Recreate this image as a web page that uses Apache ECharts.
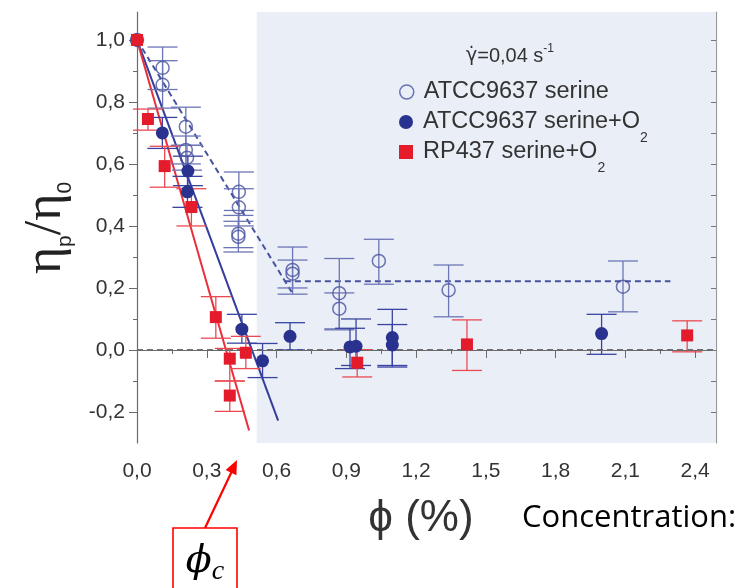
<!DOCTYPE html>
<html>
<head>
<meta charset="utf-8">
<script src="https://cdn.jsdelivr.net/npm/echarts@6/dist/echarts.min.js"></script>
<style>
  html, body { margin: 0; padding: 0; background: #ffffff; }
  #chart { width: 755px; height: 588px; }
</style>
</head>
<body>
<div id="chart"></div>
<script>
// Relative viscosity of bacterial suspensions vs volume fraction (shear rate 0.04 s^-1)

// Axis ticks
const xMajor = [0, 0.3, 0.6, 0.9, 1.2, 1.5, 1.8, 2.1, 2.4];
const xMinor = [0.15, 0.45, 0.75, 1.05, 1.35, 1.65, 1.95, 2.25];
const yMajor = [-0.2, 0, 0.2, 0.4, 0.6, 0.8, 1.0];
const yMinor = [-0.1, 0.1, 0.3, 0.5, 0.7, 0.9];
const yRight = [-0.2, -0.1, 0, 0.1, 0.2, 0.3, 0.4, 0.5, 0.6, 0.7, 0.8, 0.9, 1.0];

// Series names
const seriesNames = ['ATCC9637 serine', 'ATCC9637 serine+O2', 'RP437 serine+O2'];

// ATCC9637 serine (open circles): [phi, eta_p/eta_0]
const openPts = [
  [0, 1.0], [0.11, 0.91], [0.11, 0.855], [0.21, 0.72], [0.21, 0.645], [0.215, 0.62],
  [0.438, 0.51], [0.438, 0.46], [0.436, 0.375], [0.436, 0.365],
  [0.669, 0.258], [0.669, 0.246], [0.87, 0.183], [0.87, 0.133],
  [1.04, 0.287], [1.34, 0.193], [2.09, 0.204]
];
// error bars [low, high]
const openBars = [
  null, [0.84, 0.977], [0.78, 0.933], [0.66, 0.783], [0.60, 0.69], [0.58, 0.66],
  [0.45, 0.574], [0.40, 0.52], [0.316, 0.434], [0.33, 0.415],
  [0.18, 0.332], [0.20, 0.29], [0.068, 0.295], [0.065, 0.184],
  [0.212, 0.357], [0.107, 0.274], [0.123, 0.287]
];

// ATCC9637 serine+O2 (filled circles)
const filledPts = [
  [0, 1.0], [0.109, 0.70], [0.219, 0.577], [0.217, 0.51],
  [0.451, 0.067], [0.54, -0.035], [0.658, 0.044],
  [0.916, 0.01], [0.942, 0.012], [1.098, 0.04], [1.098, 0.016], [1.998, 0.053]
];
const filledBars = [
  null, [0.65, 0.75], [0.53, 0.625], [0.46, 0.56],
  [0.022, 0.115], [-0.089, 0.021], [0.0, 0.088],
  [-0.06, 0.07], [-0.05, 0.10], [-0.055, 0.131], [-0.05, 0.082], [-0.014, 0.115]
];

// RP437 serine+O2 (red squares)
const redPts = [
  [0, 1.0], [0.047, 0.745], [0.119, 0.593], [0.234, 0.461],
  [0.339, 0.106], [0.399, -0.028], [0.468, -0.009], [0.399, -0.147],
  [0.947, -0.041], [1.419, 0.018], [2.366, 0.047]
];
const redBars = [
  null, [0.709, 0.777], [0.525, 0.657], [0.40, 0.52],
  [0.038, 0.172], [-0.10, 0.005], [-0.06, 0.044], [-0.198, -0.10],
  [-0.087, 0.001], [-0.066, 0.097], [-0.006, 0.094]
];

// Linear fits and reference lines
const redFit = [[0, 1.0], [0.482, -0.26]];
const blueFit = [[0, 1.0], [0.607, -0.228]];
const openFitSlope = [[0, 1.0], [0.665, 0.187]];
const openFitPlateau = [[0.636, 0.222], [2.294, 0.222]];
const zeroLine = [[0, 0], [2.49, 0]];
const shadedRange = [0.515, 2.488];

const BLUE = '#29328e';
const BLUE_OPEN = '#4853a0';
const RED = '#e31b2b';

const comma = v => Number(v).toFixed(1).replace('.', ',');

function withBars(pts, bars) {
  const out = [];
  pts.forEach((p, i) => { if (bars[i]) out.push([p[0], bars[i][0], bars[i][1]]); });
  return out;
}

function errorBarRenderer(color) {
  return function (params, api) {
    const x = api.value(0);
    const top = api.coord([x, api.value(2)]);
    const bot = api.coord([x, api.value(1)]);
    const half = 15;
    const st = { stroke: color, lineWidth: 1.3 };
    return {
      type: 'group',
      children: [
        { type: 'line', shape: { x1: top[0], y1: top[1], x2: bot[0], y2: bot[1] }, style: st },
        { type: 'line', shape: { x1: top[0] - half, y1: top[1], x2: top[0] + half, y2: top[1] }, style: st },
        { type: 'line', shape: { x1: bot[0] - half, y1: bot[1], x2: bot[0] + half, y2: bot[1] }, style: st }
      ]
    };
  };
}

const chart = echarts.init(document.getElementById('chart'), null, { renderer: 'canvas' });

const axisGrey = '#6a6a6a';
const tickFont = { fontFamily: 'Liberation Sans, Arial, sans-serif', fontSize: 21, color: '#333' };

const legendLabels = {
  'ATCC9637 serine': '{t|ATCC9637 serine}',
  'ATCC9637 serine+O2': '{t|ATCC9637 serine+O}{s|2}',
  'RP437 serine+O2': '{t|RP437 serine+O}{s|2}'
};
const legendIcons = [
  { icon: 'circle', itemStyle: { color: 'rgba(0,0,0,0)', borderColor: BLUE_OPEN, borderWidth: 1.5 } },
  { icon: 'circle', itemStyle: { color: BLUE, borderWidth: 0 } },
  { icon: 'rect', itemStyle: { color: RED, borderWidth: 0 } }
];
const legendRowCenters = [91, 121, 151];

// one legend block per series so each row sits at its own height
const legends = seriesNames.map((name, i) => ({
  orient: 'vertical', left: 399, top: legendRowCenters[i] - 11, padding: 0,
  itemWidth: 14, itemHeight: 14,
  data: [Object.assign({ name: name }, legendIcons[i])],
  formatter: n => legendLabels[n],
  textStyle: {
    rich: {
      t: { fontFamily: 'Liberation Sans, Arial, sans-serif', fontSize: 23.5, color: '#333', lineHeight: 46, padding: [0, 0, 0, 5] },
      s: { fontFamily: 'Liberation Sans, Arial, sans-serif', fontSize: 14, color: '#333', lineHeight: 14, verticalAlign: 'bottom' }
    }
  }
}));

const option = {
  animation: false,
  backgroundColor: '#ffffff',
  grid: { left: 137, right: 39, top: 12, bottom: 145, containLabel: false },
  xAxis: [
    {
      type: 'value', min: 0, max: 2.49, position: 'bottom', z: 5,
      axisLine: { show: true, lineStyle: { color: axisGrey, width: 1.2 } },
      axisTick: { show: true, length: 8, customValues: xMajor, lineStyle: { color: axisGrey } },
      axisLabel: Object.assign({ customValues: xMajor, margin: 18, formatter: comma }, tickFont),
      splitLine: { show: false }
    },
    {
      type: 'value', min: 0, max: 2.49, position: 'bottom', z: 5,
      axisLine: { show: false },
      axisTick: { show: true, length: 4, customValues: xMinor, lineStyle: { color: axisGrey } },
      axisLabel: { show: false },
      splitLine: { show: false }
    }
  ],
  yAxis: [
    {
      type: 'value', min: -0.3, max: 1.09, position: 'left', z: 5,
      axisLine: { show: true, lineStyle: { color: axisGrey, width: 1.2 } },
      axisTick: { show: true, length: 8, customValues: yMajor, lineStyle: { color: axisGrey } },
      axisLabel: Object.assign({ customValues: yMajor, margin: 12, formatter: comma }, tickFont),
      splitLine: { show: false }
    },
    {
      type: 'value', min: -0.3, max: 1.09, position: 'left', z: 5,
      axisLine: { show: false },
      axisTick: { show: true, length: 4, customValues: yMinor, lineStyle: { color: axisGrey } },
      axisLabel: { show: false },
      splitLine: { show: false }
    },
    {
      type: 'value', min: -0.3, max: 1.09, position: 'right', z: 5,
      axisLine: { show: true, lineStyle: { color: '#9a9a9a', width: 1.2 } },
      axisTick: { show: true, inside: true, length: 5, customValues: yRight, lineStyle: { color: '#777' } },
      axisLabel: { show: false },
      splitLine: { show: false }
    }
  ],
  legend: legends,
  series: [
    {
      type: 'line', name: 'zero', data: zeroLine, xAxisIndex: 0, yAxisIndex: 0, z: 1,
      symbol: 'none', silent: true,
      lineStyle: { color: '#444', width: 1.3, type: [6, 4] },
      markArea: {
        silent: true,
        itemStyle: { color: '#eaeff7' },
        data: [[{ xAxis: shadedRange[0] }, { xAxis: shadedRange[1] }]]
      }
    },
    {
      type: 'line', name: 'openFitSlope', data: openFitSlope, z: 2, symbol: 'none', silent: true,
      lineStyle: { color: BLUE_OPEN, width: 2, type: [6, 4] }
    },
    {
      type: 'line', name: 'openFitPlateau', data: openFitPlateau, z: 2, symbol: 'none', silent: true,
      lineStyle: { color: BLUE_OPEN, width: 2, type: [6, 4] }
    },
    {
      type: 'line', name: 'blueFit', data: blueFit, z: 2, symbol: 'none', silent: true,
      lineStyle: { color: '#343e9c', width: 2 }
    },
    {
      type: 'line', name: 'redFit', data: redFit, z: 2, symbol: 'none', silent: true,
      lineStyle: { color: '#ea2f3a', width: 2 }
    },
    {
      type: 'custom', name: 'openErr', data: withBars(openPts, openBars), z: 3,
      encode: { x: 0, y: [1, 2] }, renderItem: errorBarRenderer('#6c75b6'), silent: true
    },
    {
      type: 'custom', name: 'filledErr', data: withBars(filledPts, filledBars), z: 3,
      encode: { x: 0, y: [1, 2] }, renderItem: errorBarRenderer('#3a44a0'), silent: true
    },
    {
      type: 'custom', name: 'redErr', data: withBars(redPts, redBars), z: 3,
      encode: { x: 0, y: [1, 2] }, renderItem: errorBarRenderer('#eb4a53'), silent: true
    },
    {
      type: 'scatter', name: seriesNames[0], data: openPts, z: 4,
      symbol: 'circle', symbolSize: 13,
      itemStyle: { color: 'rgba(0,0,0,0)', borderColor: BLUE_OPEN, borderWidth: 1.5 }
    },
    {
      type: 'scatter', name: seriesNames[1], data: filledPts, z: 5,
      symbol: 'circle', symbolSize: 13,
      itemStyle: { color: BLUE, opacity: 1 }
    },
    {
      type: 'scatter', name: seriesNames[2], data: redPts, z: 6,
      symbol: 'rect', symbolSize: 12,
      itemStyle: { color: RED, opacity: 1 }
    }
  ],
  graphic: [
    {
      type: 'text', z: 10, x: 510, y: 56,
      style: {
        x: 0, y: 0, align: 'center', verticalAlign: 'middle',
        text: '{g|γ̇}{a|=0,04 s}{b|-1}',
        rich: {
          g: { fontFamily: 'DejaVu Sans, sans-serif', fontSize: 19, fill: '#333', lineHeight: 26 },
          a: { fontFamily: 'Liberation Sans, sans-serif', fontSize: 20, fill: '#333', lineHeight: 26 },
          b: { fontFamily: 'Liberation Sans, sans-serif', fontSize: 12, fill: '#333', lineHeight: 12, verticalAlign: 'top' }
        }
      }
    },
    {
      type: 'text', z: 10, x: 46, y: 228, rotation: Math.PI / 2,
      style: {
        x: 0, y: 0, align: 'center', verticalAlign: 'middle',
        text: '{e|η}{s|p}{e|/η}{s|0}',
        rich: {
          e: { fontFamily: 'Liberation Serif, DejaVu Serif, serif', fontSize: 52, fill: '#222', lineHeight: 60 },
          s: { fontFamily: 'Liberation Sans, DejaVu Sans, sans-serif', fontSize: 21, fill: '#222', lineHeight: 21, verticalAlign: 'bottom' }
        }
      }
    },
    {
      type: 'text', z: 10, x: 421, y: 519,
      style: {
        x: 0, y: 0, align: 'center', verticalAlign: 'middle',
        text: 'ϕ (%)',
        font: '44px "Liberation Sans", "DejaVu Sans", sans-serif', fill: '#333'
      }
    },
    {
      type: 'text', z: 10, x: 522, y: 518,
      style: {
        x: 0, y: 0, align: 'left', verticalAlign: 'middle',
        text: 'Concentration:',
        font: '31px "Open Sans", "Liberation Sans", sans-serif', fill: '#000'
      }
    },
    {
      type: 'line', z: 10,
      shape: { x1: 205, y1: 528, x2: 232, y2: 471 },
      style: { stroke: '#ff0000', lineWidth: 2.2 }
    },
    {
      type: 'polygon', z: 10,
      shape: { points: [[237, 460], [236.4, 475.3], [225.6, 470.1]] },
      style: { fill: '#ff0000' }
    },
    {
      type: 'rect', z: 10,
      shape: { x: 173, y: 528, width: 64, height: 62 },
      style: { fill: '#ffffff', stroke: '#ff0000', lineWidth: 1.6 }
    },
    {
      type: 'text', z: 11, x: 205, y: 562,
      style: {
        x: 0, y: 0, align: 'center', verticalAlign: 'middle',
        text: '{p|ϕ}{c|c}',
        rich: {
          p: { fontFamily: 'DejaVu Serif, Liberation Serif, serif', fontStyle: 'italic', fontSize: 38, fill: '#000', lineHeight: 48 },
          c: { fontFamily: 'Liberation Serif, DejaVu Serif, serif', fontStyle: 'italic', fontSize: 28, fill: '#000', lineHeight: 28, verticalAlign: 'bottom' }
        }
      }
    }
  ]
};

chart.setOption(option);
</script>
</body>
</html>
